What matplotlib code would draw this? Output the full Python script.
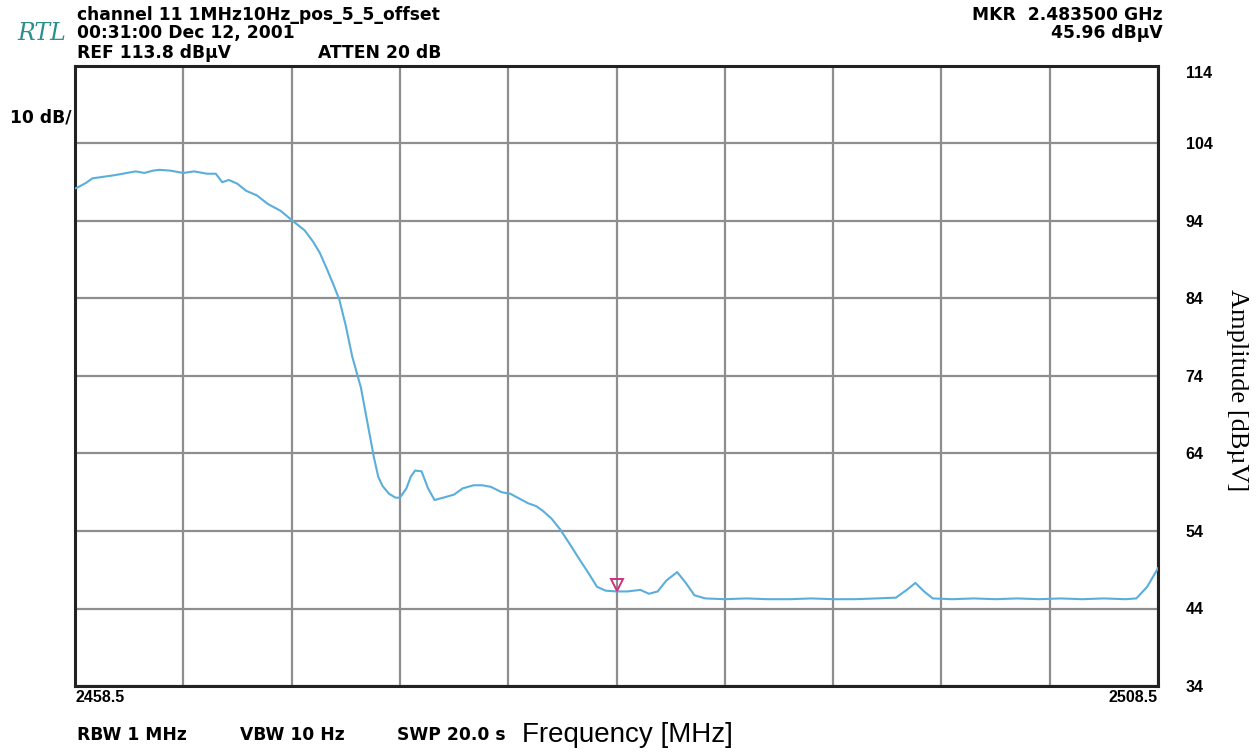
import matplotlib.pyplot as plt
import numpy as np

# spectrum trace (MHz, dBuV)
freq = [2458.5, 2458.6, 2459.0, 2459.3, 2459.8, 2460.3, 2460.9, 2461.3, 2461.7,
        2462.1, 2462.4, 2462.9, 2463.5, 2464.0, 2464.6, 2465.0, 2465.3, 2465.6,
        2466.0, 2466.4, 2466.9, 2467.4, 2468.0, 2468.6, 2469.1, 2469.5, 2469.8,
        2470.1, 2470.4, 2470.7, 2471.0, 2471.3, 2471.7, 2472.0, 2472.3, 2472.5,
        2472.7, 2473.0, 2473.3, 2473.5, 2473.8, 2474.0, 2474.2, 2474.5, 2474.8,
        2475.1, 2475.5, 2476.0, 2476.4, 2476.9, 2477.3, 2477.7, 2478.2, 2478.6,
        2479.0, 2479.4, 2479.8, 2480.1, 2480.5, 2480.9, 2481.3, 2481.8, 2482.2,
        2482.6, 2483.0, 2483.5, 2484.0, 2484.6, 2485.0, 2485.4, 2485.8, 2486.3,
        2486.7, 2487.1, 2487.6, 2488.5, 2489.5, 2490.5, 2491.5, 2492.5, 2493.5,
        2494.5, 2495.5, 2496.4, 2496.9, 2497.3, 2497.7, 2498.1, 2499.0, 2500.0,
        2501.0, 2502.0, 2503.0, 2504.0, 2505.0, 2506.0, 2507.0, 2507.5, 2508.0,
        2508.5]
level = [98.2, 98.3, 98.9, 99.5, 99.7, 99.9, 100.2, 100.4, 100.2,
         100.5, 100.6, 100.5, 100.2, 100.4, 100.1, 100.1, 99.0, 99.3,
         98.8, 97.9, 97.3, 96.2, 95.3, 93.9, 92.8, 91.3, 89.9,
         88.0, 86.0, 83.9, 80.5, 76.5, 72.5, 68.0, 63.5, 61.0,
         59.8, 58.8, 58.3, 58.3, 59.5, 61.0, 61.8, 61.7, 59.5,
         58.0, 58.3, 58.7, 59.5, 59.9, 59.9, 59.7, 59.0, 58.8,
         58.2, 57.6, 57.2, 56.6, 55.6, 54.2, 52.5, 50.3, 48.6,
         46.8, 46.3, 46.2, 46.2, 46.4, 45.9, 46.2, 47.6, 48.7,
         47.3, 45.7, 45.3, 45.2, 45.3, 45.2, 45.2, 45.3, 45.2,
         45.2, 45.3, 45.4, 46.4, 47.3, 46.2, 45.3, 45.2, 45.3,
         45.2, 45.3, 45.2, 45.3, 45.2, 45.3, 45.2, 45.3, 46.8,
         49.2]

mkr_freq = 2483.5
mkr_level = 47.0

xgrid = np.arange(2458.5, 2508.6, 5)
ygrid = [34, 44, 54, 64, 74, 84, 94, 104, 114]

W, H = 1259, 753
fig = plt.figure(figsize=(W / 100, H / 100), dpi=100)
ax = fig.add_axes([75 / W, 1 - 686 / H, 1083 / W, 620 / H])

ax.plot(freq, level, color='#5aaedc', lw=1.5, zorder=3)
ax.plot([mkr_freq], [mkr_level], marker='v', ms=8, mfc='none', mec='#d0307a',
        mew=1.4, zorder=4)

ax.set_xlim(2458.5, 2508.5)
ax.set_ylim(34, 114)
ax.set_xticks(xgrid)
ax.set_yticks(ygrid)
ax.grid(True, color='#8e8e8e', lw=1.6)
ax.tick_params(length=0)
for s in ax.spines.values():
    s.set_linewidth(2.2)
    s.set_color('#222222')

fnt = ['Liberation Sans', 'DejaVu Sans']

ax.yaxis.tick_right()
ax.set_yticklabels([str(v) for v in ygrid], fontsize=11.5, fontweight='bold',
                   family=fnt)
ax.tick_params(axis='y', pad=20)
ax.get_yticklabels()[-1].set_va('top')

xlabels = [''] * len(xgrid)
xlabels[0] = '2458.5'
xlabels[-1] = '2508.5'
ax.set_xticklabels(xlabels, fontsize=11.5, fontweight='bold', family=fnt)
ax.tick_params(axis='x', pad=3)
ax.get_xticklabels()[0].set_ha('left')
ax.get_xticklabels()[-1].set_ha('right')


def ftext(x, y, s, **kw):
    fig.text(x / W, 1 - y / H, s, **kw)


hdr = dict(fontsize=12.3, fontweight='bold', family='DejaVu Sans', va='center')
ftext(77, 15, 'channel 11 1MHz10Hz_pos_5_5_offset', **hdr)
ftext(77, 33, '00:31:00 Dec 12, 2001', **hdr)
ftext(77, 53, 'REF 113.8 dBµV', **hdr)
ftext(318, 53, 'ATTEN 20 dB', **hdr)
ftext(1163, 15, 'MKR  2.483500 GHz', ha='right', **hdr)
ftext(1163, 33, '45.96 dBµV', ha='right', **hdr)
ftext(10, 118, '10 dB/', **hdr)
ftext(17, 34, 'RTL', fontsize=17, fontstyle='italic', family='DejaVu Serif',
      color='#2b8f8c', va='center')

ftext(77, 735, 'RBW 1 MHz', **hdr)
ftext(240, 735, 'VBW 10 Hz', **hdr)
ftext(397, 735, 'SWP 20.0 s', **hdr)
ftext(522, 735, 'Frequency [MHz]', fontsize=20, family=['Liberation Sans', 'DejaVu Sans'],
      va='center')
ftext(1237, 390, 'Amplitude [dBµV]', fontsize=19, family=['Liberation Serif', 'DejaVu Serif'],
      rotation=-90, ha='center', va='center')

plt.savefig('out.png', dpi=100)
